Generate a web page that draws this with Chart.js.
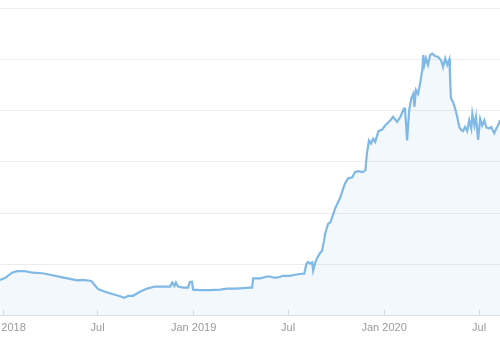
<!DOCTYPE html>
<html>
<head>
<meta charset="utf-8">
<script src="https://cdn.jsdelivr.net/npm/chart.js@4/dist/chart.umd.min.js"></script>
<style>
  html, body { margin: 0; padding: 0; background: #fff; overflow: hidden; }
  #wrap { position: absolute; left: -40px; top: 0; width: 540px; height: 350px; }
</style>
</head>
<body>
<div id="wrap"><canvas id="myChart" width="540" height="350"></canvas></div>
<script>
// days since 2018-01-01
const days = [-6, 4, 17, 27, 42, 57, 75, 90, 109, 128, 142, 153, 169, 176, 182, 195, 211, 224, 232, 240,
    249, 262, 276, 291, 307, 320, 324, 328, 331, 335, 345, 354, 358, 362, 364, 377, 397, 416, 429, 445,
    460, 473, 477, 479, 492, 508, 521, 531, 536, 550, 559, 573, 577, 581, 584, 588, 592, 594, 598, 602,
    607, 611, 615, 617, 621, 623, 627, 636, 646, 655, 661, 669, 674, 680, 688, 694, 697, 701, 705, 709,
    713, 719, 726, 732, 742, 747, 755, 761, 768, 770, 774, 778, 782, 786, 788, 791, 795, 799, 803, 805,
    807, 810, 814, 818, 822, 828, 833, 839, 843, 847, 851, 855, 856, 858, 862, 866, 870, 874, 878, 881,
    885, 889, 893, 897, 899, 903, 906, 910, 914, 918, 922, 926, 931, 935, 941, 945, 948, 952];
const values = [70, 74, 84, 87, 87, 84, 83, 80, 76, 72, 69, 70, 68, 59, 52, 47, 42, 38, 35, 39,
    39, 47, 53, 57, 57, 57, 65, 58, 65, 57, 55, 55, 66, 66, 51, 50, 50, 51, 53, 53,
    54, 55, 55, 73, 73, 77, 74, 76, 78, 78, 80, 82, 82, 101, 105, 102, 104, 88, 104, 113,
    122, 127, 147, 160, 174, 180, 182, 209, 231, 258, 268, 270, 280, 282, 280, 283, 316, 342, 336, 345,
    339, 360, 363, 371, 381, 388, 378, 388, 404, 404, 342, 401, 424, 433, 407, 440, 433, 453, 479, 508,
    489, 502, 489, 508, 511, 506, 505, 498, 485, 502, 489, 500, 472, 424, 417, 404, 388, 368, 362, 360,
    368, 360, 381, 365, 394, 371, 388, 343, 384, 371, 381, 367, 365, 368, 356, 365, 371, 381];
const tickDays = [0, 181, 365, 546, 730, 912];
const tickLabels = ['Jan 2018', 'Jul', 'Jan 2019', 'Jul', 'Jan 2020', 'Jul'];

const points = days.map((d, i) => ({ x: d, y: values[i] }));
const ctx = document.getElementById('myChart').getContext('2d');

new Chart(ctx, {
    type: 'line',
    data: {
        datasets: [{
            data: points,
            borderColor: '#80b8e6',
            backgroundColor: 'rgba(128,184,230,0.1)',
            borderWidth: 2.2,
            fill: 'origin',
            pointRadius: 0,
            tension: 0
        }]
    },
    options: {
        responsive: false,
        animation: false,
        layout: {
            padding: { left: 40, right: 0, top: 8, bottom: 3 }
        },
        plugins: {
            legend: { display: false },
            tooltip: { enabled: false }
        },
        scales: {
            x: {
                type: 'linear',
                min: -6,
                max: 952,
                afterBuildTicks: function (scale) {
                    scale.ticks = tickDays.map(v => ({ value: v }));
                },
                grid: {
                    drawOnChartArea: false,
                    tickLength: -6,
                    color: '#dedede'
                },
                border: { color: '#e2e2e2' },
                ticks: {
                    autoSkip: false,
                    maxRotation: 0,
                    padding: 12,
                    color: '#9a9a9a',
                    font: { family: 'Liberation Sans', size: 11 },
                    callback: function (value) {
                        const i = tickDays.indexOf(value);
                        return i >= 0 ? tickLabels[i] : '';
                    }
                }
            },
            y: {
                min: 0,
                max: 600,
                ticks: { display: false, stepSize: 100 },
                grid: { color: '#ececec', drawTicks: false },
                border: { display: false }
            }
        }
    }
});
</script>
</body>
</html>
